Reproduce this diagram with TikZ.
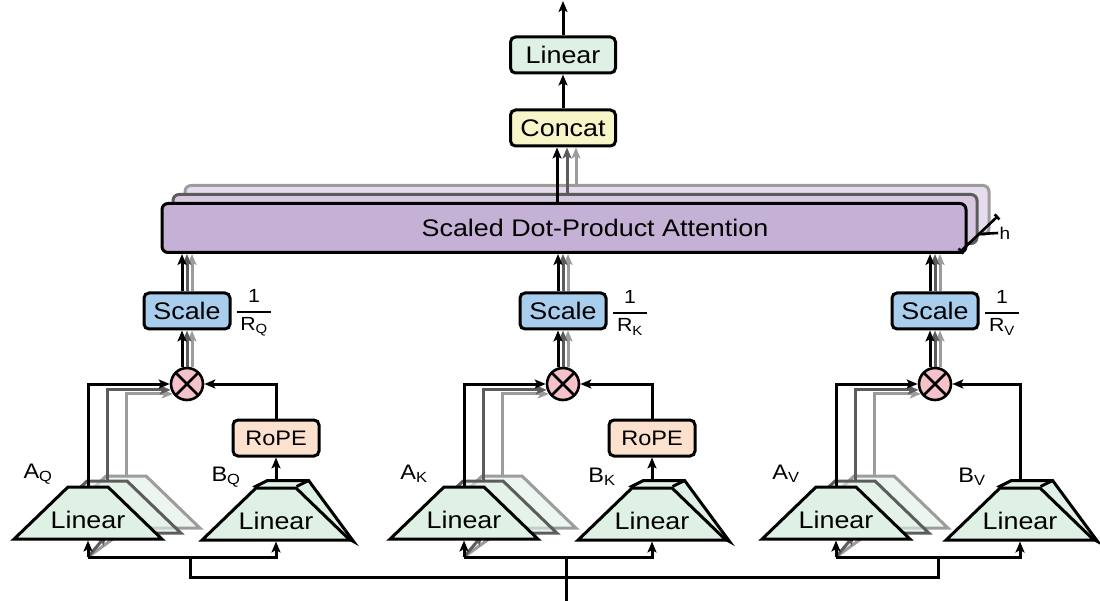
\documentclass[tikz,border=0pt]{standalone}
\usepackage{fontspec}
\setmainfont[FakeStretch=1.12]{Liberation Sans}
\usetikzlibrary{arrows.meta,shapes.geometric,backgrounds,calc}

\definecolor{lingreen}{HTML}{DFF0E4}
\definecolor{catyellow}{HTML}{F6F6C9}
\definecolor{attpurple}{HTML}{C6B1D6}
\definecolor{scaleblue}{HTML}{A9CDEC}
\definecolor{ropeorange}{HTML}{FDE1CF}
\definecolor{mulpink}{HTML}{F5C2CA}
\definecolor{darkline}{HTML}{5C5C5C}
\definecolor{lightline}{HTML}{9C9C9C}

\begin{document}
\begin{tikzpicture}[
            x=1pt, y=-1pt, line width=3pt,
            every path/.style={line width=3pt},
            >={Stealth[length=11pt,width=9pt,inset=2.5pt]},
            box/.style={rectangle, rounded corners=5pt, draw, minimum height=36pt, inner sep=0pt},
            lin box/.style={box, fill=lingreen, minimum width=105pt},
            concat box/.style={box, fill=catyellow, minimum width=105pt},
            scale box/.style={box, fill=scaleblue, minimum width=86pt},
            rope box/.style={box, fill=ropeorange, minimum width=86pt, font=\fontsize{21}{21}\selectfont},
            att box/.style={rectangle, rounded corners=6pt, draw, fill=attpurple, minimum width=804pt, minimum height=49pt},
            mul/.style={circle, draw, fill=mulpink, minimum size=32pt, inner sep=0pt, line width=2.6pt,
                path picture={\draw[line width=2.6pt] (path picture bounding box.north west) -- (path picture bounding box.south east)
                    (path picture bounding box.north east) -- (path picture bounding box.south west);}},
            trap/.style={trapezium, trapezium angle=44, draw, fill=lingreen, inner sep=0pt,
                minimum width=0pt, minimum height=0pt, text width=40pt, text height=52pt, text depth=0pt},
            lin trap/.style={trap, label={[yshift=-7pt]center:Linear}},
            back trap/.style={trap, fill opacity=0.6},
            frac/.style={font=\fontsize{19}{19}\selectfont, inner sep=0pt, align=center},
            lab/.style={font=\fontsize{21}{21}\selectfont, inner sep=0pt},
            dark/.style={color=darkline},
            light/.style={color=lightline},
            every node/.style={font=\fontsize{24}{24}\selectfont}
    ]
        \useasboundingbox (0,0) rectangle (1100,601);

        % Output
        \coordinate (out) at (563,1);
        \node[lin box] (lin) at (563,55) {Linear};
        \node[concat box] (cat) at (563,128) {Concat};

        % Attention heads
        \node[att box, draw=lightline, fill=attpurple!45] (att3) at (587,210) {};
        \node[att box, draw=darkline, fill=attpurple!70] (att2) at (575,219) {};
        \node[att box, label={[xshift=31pt]center:Scaled Dot-Product Attention}] (att) at (564,228) {};

        \coordinate (h1) at (960,252);
        \coordinate (h2) at (998,216);
        \node[lab, font=\fontsize{17}{17}\selectfont] (hl) at (1005,233) {h};

        % Scaling
        \node[scale box] (sq) at (187,311) {Scale};
        \node[scale box] (sk) at (563,311) {Scale};
        \node[scale box] (sv) at (935,311) {Scale};
        \node[frac] (fq) at (254,313) {1\\[-9pt]\rule{34pt}{2pt}\\[-1pt]R\textsubscript{Q}};
        \node[frac] (fk) at (630,313) {1\\[-9pt]\rule{34pt}{2pt}\\[-1pt]R\textsubscript{K}};
        \node[frac] (fv) at (1002,313) {1\\[-9pt]\rule{34pt}{2pt}\\[-1pt]R\textsubscript{V}};

        % Products
        \node[mul] (oq) at (187,384) {};
        \node[mul] (ok) at (563,384) {};
        \node[mul] (ov) at (935,384) {};

        % RoPE
        \node[rope box] (rq) at (276,438) {RoPE};
        \node[rope box] (rk) at (652,438) {RoPE};

        % Query projections
        \node[back trap, draw=lightline] (aq3) at (126,502) {};
        \node[back trap, draw=darkline] (aq2) at (107,507) {};
        \coordinate (inq) at (88,557);
        \draw[->, light] (inq) -- (aq3.bottom side);
        \draw[->, dark] (inq) -- (aq2.bottom side);
        \node[lin trap] (aq) at (88,513) {};
        \node[lin trap] (bq) at (276,514) {};
        \node[lab] (laq) at (38,474) {A\textsubscript{Q}};
        \node[lab] (lbq) at (226,477) {B\textsubscript{Q}};

        % Key projections
        \node[back trap, draw=lightline] (ak3) at (502,502) {};
        \node[back trap, draw=darkline] (ak2) at (483,507) {};
        \coordinate (ink) at (464,557);
        \draw[->, light] (ink) -- (ak3.bottom side);
        \draw[->, dark] (ink) -- (ak2.bottom side);
        \node[lin trap] (ak) at (464,513) {};
        \node[lin trap] (bk) at (652,514) {};
        \node[lab] (lak) at (414,474) {A\textsubscript{K}};
        \node[lab] (lbk) at (602,477) {B\textsubscript{K}};

        % Value projections
        \node[back trap, draw=lightline] (av3) at (874,502) {};
        \node[back trap, draw=darkline] (av2) at (855,507) {};
        \coordinate (inv) at (836,557);
        \draw[->, light] (inv) -- (av3.bottom side);
        \draw[->, dark] (inv) -- (av2.bottom side);
        \node[lin trap] (av) at (836,513) {};
        \node[lin trap] (bv) at (1020,514) {};
        \node[lab] (lav) at (786,474) {A\textsubscript{V}};
        \node[lab] (lbv) at (972,477) {B\textsubscript{V}};

        % back faces of the B prisms
        \begin{pgfonlayer}{background}
            \filldraw[fill=lingreen] (bq.top left corner) -- ([shift={(12,-6)}]bq.top left corner) -- ([shift={(12,-6)}]bq.top right corner) -- (bq.bottom right corner) -- cycle;
            \draw (bq.top right corner) -- ([shift={(12,-6)}]bq.top right corner);
            \filldraw[fill=lingreen] (bk.top left corner) -- ([shift={(12,-6)}]bk.top left corner) -- ([shift={(12,-6)}]bk.top right corner) -- (bk.bottom right corner) -- cycle;
            \draw (bk.top right corner) -- ([shift={(12,-6)}]bk.top right corner);
            \filldraw[fill=lingreen] (bv.top left corner) -- ([shift={(12,-6)}]bv.top left corner) -- ([shift={(12,-6)}]bv.top right corner) -- (bv.bottom right corner) -- cycle;
            \draw (bv.top right corner) -- ([shift={(12,-6)}]bv.top right corner);
        \end{pgfonlayer}

        % Input bus
        \coordinate (jq) at (190,557);
        \coordinate (jk) at (566,557);
        \coordinate (jv) at (938,557);
        \coordinate (inp) at (566,601);
        \draw (jq) -- ++(0,20) -| (jv);
        \draw (inp) -- (jk);

        % Arrows
        \draw[->] (inq) -- (aq.bottom side);
        \draw[->] (inq) -| (bq.bottom side);
        \draw[->] ([yshift=5pt]bq.top side) -- (rq);
        \draw[->] (rq) |- (oq);
        \draw[->, light] (aq3.top side) |- (oq.215);
        \draw[->, dark] (aq2.top side) |- (oq.200);
        \draw[->] (aq.top side) |- (oq);

        \draw[->] (ink) -- (ak.bottom side);
        \draw[->] (ink) -| (bk.bottom side);
        \draw[->] ([yshift=5pt]bk.top side) -- (rk);
        \draw[->] (rk) |- (ok);
        \draw[->, light] (ak3.top side) |- (ok.215);
        \draw[->, dark] (ak2.top side) |- (ok.200);
        \draw[->] (ak.top side) |- (ok);

        \draw[->] (inv) -- (av.bottom side);
        \draw[->] (inv) -| (bv.bottom side);
        \draw[->] ([yshift=5pt]bv.top side) |- (ov);
        \draw[->, light] (av3.top side) |- (ov.215);
        \draw[->, dark] (av2.top side) |- (ov.200);
        \draw[->] (av.top side) |- (ov);

        \draw[->, light] ([xshift=5pt]oq.north) -- ([xshift=5pt]sq.south);
        \draw[->, dark] (oq) -- (sq);
        \draw[->] ([xshift=-5pt]oq.north) -- ([xshift=-5pt]sq.south);
        \draw[->, light] ([xshift=5pt]ok.north) -- ([xshift=5pt]sk.south);
        \draw[->, dark] (ok) -- (sk);
        \draw[->] ([xshift=-5pt]ok.north) -- ([xshift=-5pt]sk.south);
        \draw[->, light] ([xshift=5pt]ov.north) -- ([xshift=5pt]sv.south);
        \draw[->, dark] (ov) -- (sv);
        \draw[->] ([xshift=-5pt]ov.north) -- ([xshift=-5pt]sv.south);

        \draw[->, light] ([xshift=5pt]sq.north) -- ([xshift=5pt]sq.north |- att.south);
        \draw[->, dark] (sq.north) -- (sq.north |- att.south);
        \draw[->] ([xshift=-5pt]sq.north) -- ([xshift=-5pt]sq.north |- att.south);
        \draw[->, light] ([xshift=5pt]sk.north) -- ([xshift=5pt]sk.north |- att.south);
        \draw[->, dark] (sk.north) -- (sk.north |- att.south);
        \draw[->] ([xshift=-5pt]sk.north) -- ([xshift=-5pt]sk.north |- att.south);
        \draw[->, light] ([xshift=5pt]sv.north) -- ([xshift=5pt]sv.north |- att.south);
        \draw[->, dark] (sv.north) -- (sv.north |- att.south);
        \draw[->] ([xshift=-5pt]sv.north) -- ([xshift=-5pt]sv.north |- att.south);

        \draw[->, light] ([xshift=13pt]cat.south |- att3.north) -- ([xshift=13pt]cat.south);
        \draw[->, dark] ([xshift=4pt]cat.south |- att2.north) -- ([xshift=4pt]cat.south);
        \draw[->] ([xshift=-6pt]cat.south |- att.north) -- ([xshift=-6pt]cat.south);
        \draw[->] (cat) -- (lin);
        \draw[->] (lin) -- (out);

        \draw[line width=2.6pt, {Bar[width=7pt]}-{Bar[width=7pt]}] (h1) -- (h2);
        \draw[line width=2.6pt] (hl.west) -- ($(h1)!0.5!(h2)$);

    \end{tikzpicture}
\end{document}
